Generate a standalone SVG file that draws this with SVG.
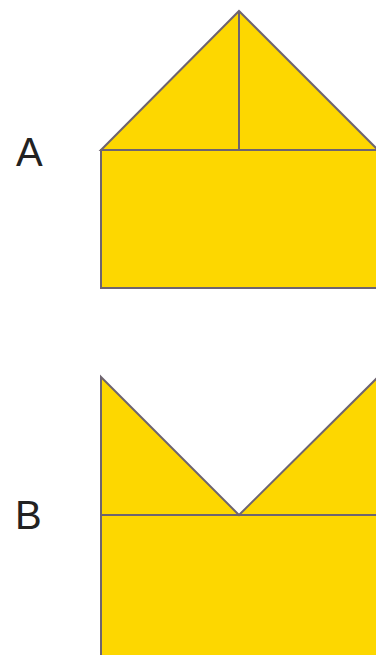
<svg xmlns="http://www.w3.org/2000/svg" width="376" height="655" viewBox="0 0 376 655">
<style>
.s{fill:#FDD700;stroke:#6E6470;stroke-width:2;stroke-linejoin:miter}
.l{fill:none;stroke:#6E6470;stroke-width:2}
.t{font-family:"Liberation Sans",Arial,sans-serif;font-size:40px;fill:#222}
</style>
<rect width="376" height="655" fill="#fff"/>
<g id="shapeA">
<polygon class="s" points="101,150 239,11 378,150"/>
<rect class="s" x="101" y="150" width="277" height="138"/>
<line class="l" x1="239" y1="11" x2="239" y2="150"/>
<text class="t" x="16" y="166">A</text>
</g>
<g id="shapeB">
<polygon class="s" points="101,377 239,515 378,377 378,660 101,660"/>
<line class="l" x1="101" y1="515" x2="378" y2="515"/>
<text class="t" x="15" y="529">B</text>
</g>
</svg>
